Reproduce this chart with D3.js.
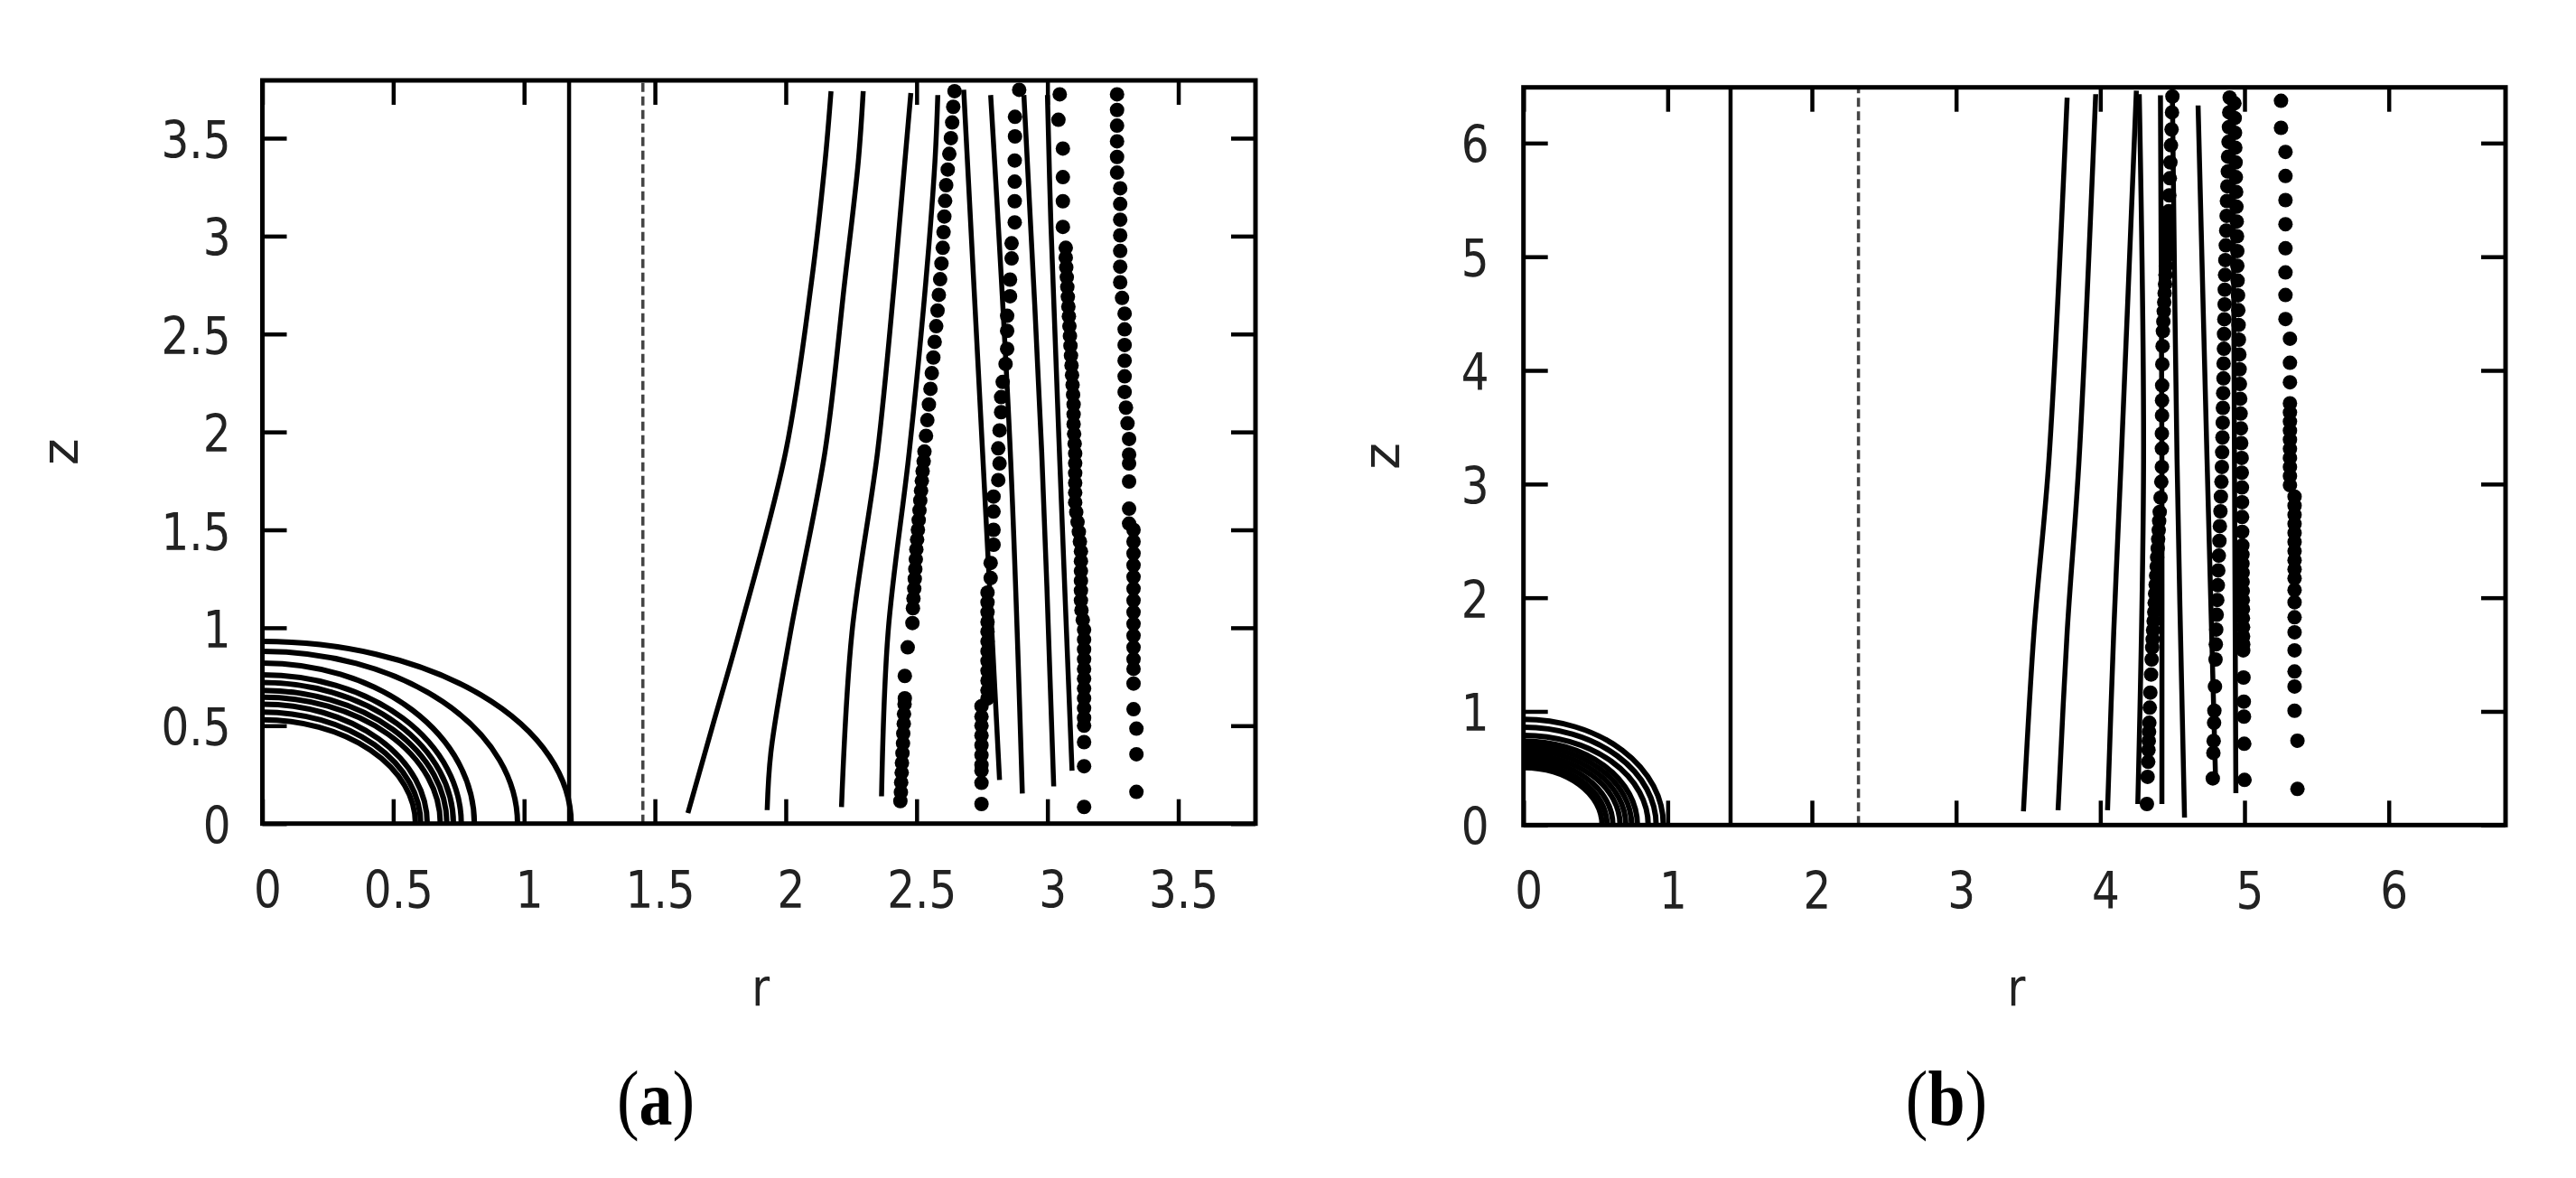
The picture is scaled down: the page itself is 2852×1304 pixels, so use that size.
<!DOCTYPE html>
<html><head><meta charset="utf-8">
<script src="https://cdn.jsdelivr.net/npm/d3@7"></script>
<style>body{margin:0;background:#fff}</style>
</head><body>
<svg id="chart" width="2852" height="1304"></svg>
<script>
// ---------- tick values and labels ----------
const ticksA = [0, 0.5, 1, 1.5, 2, 2.5, 3, 3.5];
const tickLabelsA = ["0", "0.5", "1", "1.5", "2", "2.5", "3", "3.5"];
const ticksB = [0, 1, 2, 3, 4, 5, 6];
const tickLabelsB = ["0", "1", "2", "3", "4", "5", "6"];
const axisTitles = {x: "r", y: "z"};
const panelLabels = ["a", "b"];

// ---------- panel (a) ----------
const arcsA_r = [1.18, 0.975, 0.81, 0.76, 0.73, 0.705, 0.68, 0.63, 0.605, 0.585];
const arcsA_z = [0.93, 0.88, 0.82, 0.76, 0.72, 0.68, 0.645, 0.61, 0.57, 0.53];
const vlinesA = {solid: 1.172, dashed: 1.454};
const linesA = [
  [[1.626,0.054],[1.724,0.516],[1.822,0.976],[2.0,1.9],[2.098,2.763],[2.15,3.378],[2.173,3.74]],
  [[1.929,0.069],[1.943,0.362],[2.018,0.976],[2.15,1.9],[2.225,2.763],[2.277,3.378],[2.296,3.74]],
  [[2.213,0.085],[2.253,0.976],[2.351,1.9],[2.415,2.763],[2.455,3.378],[2.478,3.73]],
  [[2.366,0.139],[2.391,0.976],[2.472,1.9],[2.535,2.763],[2.57,3.378],[2.581,3.72]],
  [[2.817,0.223],[2.752,1.9],[2.68,3.747]],
  [[2.904,0.154],[2.858,1.9],[2.783,3.72]],
  [[3.024,0.19],[2.978,1.9],[2.91,3.72]],
  [[3.094,0.27],[3.047,1.854],[3.013,3.07],[3.0,3.72]]
];
const dotsA1 = [[2.438,0.115],[2.440,0.16],[2.441,0.21],[2.443,0.26],[2.444,0.31],[2.446,0.36],[2.448,0.41],[2.449,0.46],[2.451,0.51],[2.452,0.56],[2.454,0.61],[2.455,0.64],[2.455,0.754],[2.466,0.90],[2.484,1.024],[2.486,1.10],[2.488,1.15],[2.491,1.20],[2.493,1.25],[2.495,1.30],[2.497,1.35],[2.499,1.40],[2.502,1.45],[2.505,1.50],[2.508,1.55],[2.511,1.60],[2.514,1.65],[2.517,1.70],[2.520,1.75],[2.523,1.80],[2.527,1.85],[2.530,1.90],[2.536,1.98],[2.541,2.06],[2.547,2.14],[2.553,2.22],[2.558,2.30],[2.564,2.38],[2.569,2.46],[2.575,2.54],[2.580,2.62],[2.585,2.70],[2.590,2.78],[2.595,2.86],[2.600,2.94],[2.603,3.02],[2.606,3.10],[2.609,3.18],[2.613,3.26],[2.619,3.34],[2.625,3.42],[2.631,3.50],[2.636,3.58],[2.640,3.66],[2.645,3.74]];
const dotsA2 = [[2.892,3.747],[2.876,3.609],[2.876,3.509],[2.875,3.386],[2.875,3.278],[2.875,3.178],[2.875,3.07],[2.863,2.963],[2.863,2.886],[2.857,2.778],[2.857,2.693],[2.846,2.593],[2.846,2.516],[2.846,2.424],[2.840,2.347],[2.829,2.255],[2.823,2.178],[2.823,2.101],[2.817,2.008],[2.812,1.916],[2.817,1.839],[2.812,1.754],[2.794,1.67],[2.794,1.593],[2.794,1.50],[2.794,1.424],[2.783,1.331],[2.783,1.254],[2.771,1.18],[2.771,1.13],[2.771,1.08],[2.771,1.03],[2.771,0.98],[2.771,0.93],[2.771,0.88],[2.771,0.83],[2.771,0.78],[2.771,0.73],[2.771,0.68],[2.771,0.639],[2.748,0.60],[2.748,0.546],[2.748,0.50],[2.748,0.45],[2.748,0.40],[2.748,0.35],[2.748,0.30],[2.748,0.27],[2.748,0.208],[2.748,0.10]];
const dotsA3 = [[3.047,3.724],[3.042,3.594],[3.059,3.447],[3.059,3.301],[3.059,3.178],[3.059,3.047],[3.070,2.94],[3.070,2.89],[3.072,2.84],[3.074,2.79],[3.076,2.74],[3.078,2.69],[3.080,2.64],[3.082,2.59],[3.084,2.54],[3.086,2.49],[3.088,2.44],[3.090,2.39],[3.092,2.34],[3.094,2.29],[3.096,2.24],[3.098,2.19],[3.100,2.14],[3.100,2.09],[3.100,2.04],[3.102,1.99],[3.104,1.94],[3.106,1.89],[3.106,1.84],[3.106,1.79],[3.106,1.74],[3.106,1.69],[3.106,1.64],[3.110,1.59],[3.115,1.54],[3.120,1.49],[3.124,1.44],[3.128,1.39],[3.128,1.34],[3.128,1.29],[3.128,1.24],[3.128,1.19],[3.128,1.14],[3.130,1.09],[3.135,1.04],[3.140,0.99],[3.140,0.94],[3.140,0.89],[3.140,0.84],[3.140,0.79],[3.140,0.74],[3.140,0.69],[3.140,0.64],[3.140,0.59],[3.140,0.54],[3.140,0.50],[3.140,0.416],[3.140,0.293],[3.140,0.085]];
const dotsA4 = [[3.266,3.724],[3.266,3.644],[3.266,3.564],[3.266,3.484],[3.266,3.404],[3.266,3.324],[3.278,3.244],[3.278,3.164],[3.278,3.084],[3.278,3.004],[3.278,2.924],[3.278,2.844],[3.278,2.764],[3.285,2.684],[3.295,2.604],[3.295,2.524],[3.295,2.444],[3.295,2.364],[3.295,2.284],[3.295,2.204],[3.300,2.124],[3.306,2.044],[3.312,1.964],[3.312,1.884],[3.312,1.839],[3.312,1.747],[3.312,1.608],[3.312,1.532],[3.329,1.50],[3.329,1.44],[3.329,1.38],[3.329,1.32],[3.329,1.26],[3.329,1.20],[3.329,1.14],[3.329,1.08],[3.329,1.02],[3.329,0.96],[3.329,0.90],[3.329,0.84],[3.329,0.79],[3.329,0.715],[3.329,0.584],[3.340,0.485],[3.340,0.354],[3.340,0.162]];

// ---------- panel (b) ----------
const arcsB_r = [0.97, 0.92, 0.865, 0.79, 0.75, 0.71, 0.67, 0.62, 0.58, 0.545];
const arcsB_z = [0.93, 0.86, 0.79, 0.74, 0.70, 0.66, 0.62, 0.58, 0.54, 0.505];
const vlinesB = {solid: 1.436, dashed: 2.323};
const linesB = [
  [[3.467,0.12],[3.54,1.696],[3.644,3.22],[3.77,6.40]],
  [[3.707,0.13],[3.77,1.696],[3.853,3.22],[3.968,6.43]],
  [[4.05,0.13],[4.093,1.696],[4.145,3.22],[4.25,6.46]],
  [[4.26,0.185],[4.30,3.22],[4.27,6.43]],
  [[4.427,0.185],[4.427,3.2],[4.417,6.42]],
  [[4.584,0.066],[4.532,3.22],[4.50,6.40]],
  [[4.80,0.37],[4.74,3.22],[4.678,6.33]],
  [[4.94,0.28],[4.93,3.3],[4.92,6.2]]
];
const dotsB1 = [[4.500,6.41],[4.497,6.27],[4.494,6.12],[4.490,5.98],[4.486,5.83],[4.482,5.69],[4.478,5.54],[4.474,5.40],[4.471,5.32],[4.468,5.24],[4.465,5.16],[4.462,5.08],[4.458,5.00],[4.455,4.92],[4.452,4.84],[4.449,4.76],[4.446,4.68],[4.443,4.60],[4.440,4.52],[4.437,4.43],[4.434,4.345],[4.432,4.213],[4.430,4.054],[4.429,3.868],[4.428,3.736],[4.428,3.603],[4.427,3.444],[4.427,3.312],[4.427,3.15],[4.423,3.02],[4.418,2.88],[4.412,2.755],[4.408,2.675],[4.405,2.595],[4.401,2.515],[4.398,2.435],[4.394,2.355],[4.391,2.275],[4.387,2.195],[4.384,2.115],[4.380,2.035],[4.377,1.955],[4.374,1.875],[4.370,1.795],[4.366,1.715],[4.363,1.635],[4.360,1.563],[4.356,1.457],[4.352,1.324],[4.347,1.165],[4.343,1.033],[4.340,0.90],[4.338,0.82],[4.336,0.74],[4.334,0.66],[4.332,0.556],[4.328,0.424],[4.323,0.185]];
const dotsB2 = [[4.897,6.40],[4.894,6.27],[4.892,6.14],[4.889,6.01],[4.886,5.88],[4.884,5.75],[4.881,5.62],[4.878,5.49],[4.876,5.36],[4.873,5.23],[4.870,5.10],[4.867,4.97],[4.865,4.84],[4.863,4.71],[4.862,4.58],[4.860,4.45],[4.858,4.32],[4.857,4.19],[4.855,4.06],[4.854,3.93],[4.852,3.80],[4.850,3.67],[4.849,3.54],[4.847,3.41],[4.845,3.28],[4.843,3.15],[4.840,3.02],[4.836,2.89],[4.833,2.76],[4.829,2.63],[4.826,2.50],[4.822,2.37],[4.818,2.24],[4.815,2.11],[4.811,1.98],[4.807,1.85],[4.804,1.72],[4.801,1.59],[4.799,1.457],[4.795,1.22],[4.791,1.006],[4.789,0.90],[4.786,0.74],[4.784,0.635],[4.780,0.41]];
const dotsB3 = [[4.930,6.35],[4.932,6.22],[4.934,6.09],[4.936,5.96],[4.938,5.83],[4.940,5.70],[4.942,5.57],[4.944,5.44],[4.946,5.31],[4.948,5.18],[4.950,5.05],[4.950,4.92],[4.952,4.79],[4.955,4.66],[4.957,4.53],[4.959,4.40],[4.961,4.27],[4.964,4.14],[4.966,4.01],[4.968,3.88],[4.970,3.75],[4.973,3.62],[4.975,3.49],[4.977,3.36],[4.980,3.23],[4.981,3.10],[4.982,2.97],[4.983,2.84],[4.983,2.71],[4.984,2.58],[4.985,2.46],[4.986,2.38],[4.986,2.30],[4.987,2.22],[4.987,2.14],[4.988,2.06],[4.988,1.98],[4.989,1.90],[4.989,1.82],[4.990,1.74],[4.990,1.66],[4.991,1.59],[4.991,1.537],[4.993,1.298],[4.995,1.086],[4.996,0.954],[4.998,0.715],[5.000,0.397]];
const dotsB4 = [[5.253,6.372],[5.253,6.134],[5.284,5.922],[5.284,5.71],[5.284,5.498],[5.284,5.286],[5.284,5.074],[5.284,4.862],[5.284,4.663],[5.284,4.452],[5.315,4.279],[5.315,4.067],[5.315,3.895],[5.315,3.71],[5.315,3.63],[5.315,3.55],[5.315,3.47],[5.315,3.39],[5.315,3.31],[5.315,3.23],[5.315,3.15],[5.315,3.07],[5.315,2.99],[5.347,2.89],[5.347,2.81],[5.347,2.73],[5.347,2.65],[5.347,2.57],[5.347,2.49],[5.347,2.41],[5.347,2.33],[5.347,2.25],[5.347,2.17],[5.347,2.067],[5.347,1.96],[5.347,1.828],[5.347,1.696],[5.347,1.537],[5.347,1.351],[5.347,1.219],[5.347,1.006],[5.367,0.742],[5.367,0.318]];

// ---------- drawing ----------
const svg = d3.select("#chart");
svg.append("rect").attr("width", 2852).attr("height", 1304).attr("fill", "#fff");

const SANS = "'DejaVu Sans', 'Liberation Sans', sans-serif";
const SERIF = "'Liberation Serif', 'DejaVu Serif', serif";

function drawPanel(o) {
  const g = svg.append("g");
  const x = d3.scaleLinear().domain([0, o.xMax]).range([o.left, o.right]);
  const y = d3.scaleLinear().domain([0, o.yMax]).range([o.bottom, o.top]);
  const T = 27;

  // ticks on all four sides, pointing inward
  const axes = [
    [d3.axisBottom(x), `translate(0,${o.bottom})`],
    [d3.axisTop(x), `translate(0,${o.top})`],
    [d3.axisLeft(y), `translate(${o.left},0)`],
    [d3.axisRight(y), `translate(${o.right},0)`]
  ];
  axes.forEach(([ax, tr]) => {
    g.append("g").attr("transform", tr)
      .call(ax.tickValues(o.ticks).tickSize(-T).tickFormat(""))
      .call(s => s.select(".domain").remove())
      .call(s => s.selectAll(".tick line").attr("stroke", "#000").attr("stroke-width", 4.5));
  });

  // vertical reference lines
  g.append("line")
    .attr("x1", x(o.vlines.solid)).attr("x2", x(o.vlines.solid))
    .attr("y1", y(0)).attr("y2", y(o.yMax))
    .attr("stroke", "#000").attr("stroke-width", 4.5);
  g.append("line")
    .attr("x1", x(o.vlines.dashed)).attr("x2", x(o.vlines.dashed))
    .attr("y1", y(0)).attr("y2", y(o.yMax))
    .attr("stroke", "#444").attr("stroke-width", 3.5)
    .attr("stroke-dasharray", "10,5");

  // quarter-ellipse contours around the origin
  g.selectAll(".arc").data(d3.zip(o.arcsR, o.arcsZ)).join("path")
    .attr("d", ([rI, zI]) => `M${x(0)},${y(zI)} A${x(rI) - x(0)},${y(0) - y(zI)} 0 0 1 ${x(rI)},${y(0)}`)
    .attr("fill", "none").attr("stroke", "#000").attr("stroke-width", 6);

  // solid curves
  const line = d3.line().x(d => x(d[0])).y(d => y(d[1])).curve(d3.curveCatmullRom);
  g.selectAll(".ln").data(o.lines).join("path")
    .attr("d", line).attr("fill", "none")
    .attr("stroke", "#000").attr("stroke-width", 5.5);

  // dotted series
  o.dots.forEach(series => {
    g.append("g").selectAll("circle").data(series).join("circle")
      .attr("cx", d => x(d[0])).attr("cy", d => y(d[1])).attr("r", 8)
      .attr("fill", "#000");
  });

  // frame
  g.append("rect")
    .attr("x", o.left).attr("y", o.top)
    .attr("width", o.right - o.left).attr("height", o.bottom - o.top)
    .attr("fill", "none").attr("stroke", "#000").attr("stroke-width", 5);

  // tick labels
  o.ticks.forEach((t, i) => {
    g.append("text")
      .attr("transform", `translate(${x(t) + 6},${o.bottom + 93}) scale(0.85,1)`)
      .attr("text-anchor", "middle")
      .attr("font-family", SANS).attr("font-size", 57).attr("fill", "#222")
      .text(o.tickLabels[i]);
    g.append("text")
      .attr("transform", `translate(${o.left - o.labelGap},${y(t) + 22}) scale(0.85,1)`)
      .attr("text-anchor", "end")
      .attr("font-family", SANS).attr("font-size", 57).attr("fill", "#222")
      .text(o.tickLabels[i]);
  });

  // axis titles
  g.append("text")
    .attr("transform", `translate(${(o.left + o.right) / 2 + 2},1113) scale(0.85,1)`)
    .attr("text-anchor", "middle")
    .attr("font-family", SANS).attr("font-size", 57).attr("fill", "#222")
    .text(axisTitles.x);
  g.append("text")
    .attr("transform", `translate(${o.zx},${(o.top + o.bottom) / 2}) rotate(-90)`)
    .attr("text-anchor", "middle")
    .attr("font-family", SANS).attr("font-size", 57).attr("fill", "#222")
    .text(axisTitles.y);

  // panel label
  const lab = svg.append("text")
    .attr("transform", `translate(${o.labelX},1245) scale(0.85,1)`)
    .attr("text-anchor", "middle")
    .attr("font-family", SERIF).attr("font-size", 87).attr("fill", "#000");
  lab.append("tspan").text("(");
  lab.append("tspan").attr("font-weight", "bold").text(o.label);
  lab.append("tspan").text(")");
}

drawPanel({
  left: 290.5, right: 1390, top: 89, bottom: 911.7,
  xMax: 3.795, yMax: 3.795,
  ticks: ticksA, tickLabels: tickLabelsA, labelGap: 35,
  vlines: vlinesA, arcsR: arcsA_r, arcsZ: arcsA_z,
  lines: linesA, dots: [dotsA1, dotsA2, dotsA3, dotsA4],
  zx: 86, labelX: 726, label: panelLabels[0]
});
drawPanel({
  left: 1686.7, right: 2774, top: 96.7, bottom: 913.3,
  xMax: 6.81, yMax: 6.49,
  ticks: ticksB, tickLabels: tickLabelsB, labelGap: 38,
  vlines: vlinesB, arcsR: arcsB_r, arcsZ: arcsB_z,
  lines: linesB, dots: [dotsB1, dotsB2, dotsB3, dotsB4],
  zx: 1549, labelX: 2155, label: panelLabels[1]
});
</script>
</body></html>
